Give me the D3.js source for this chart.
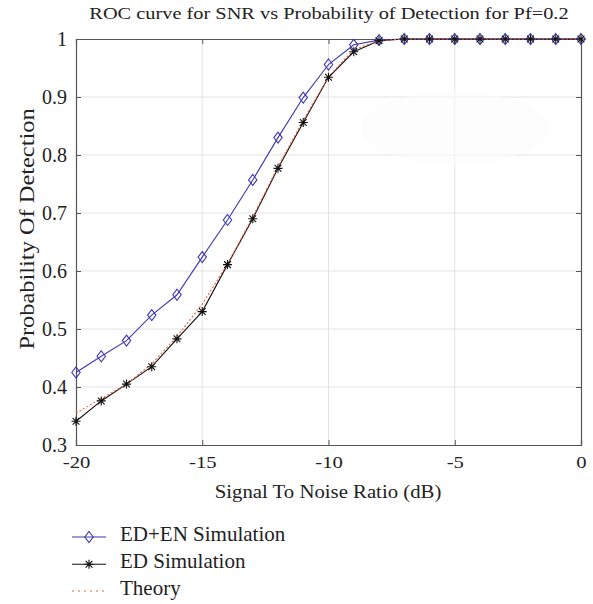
<!DOCTYPE html>
<html><head><meta charset="utf-8">
<script src="https://cdn.jsdelivr.net/npm/d3@7"></script>
<style>body{margin:0;background:#fff}svg{display:block}svg text{font-family:'Liberation Serif','DejaVu Serif','Tinos','Times New Roman',serif !important}</style>
</head><body><svg id="c" width="593" height="604"></svg>
<script>
const snr = [-20,-19,-18,-17,-16,-15,-14,-13,-12,-11,-10,-9,-8,-7,-6,-5,-4,-3,-2,-1,0];
const edEn = [0.425,0.453,0.480,0.524,0.559,0.624,0.688,0.757,0.830,0.899,0.956,0.990,0.998,1,1,1,1,1,1,1,1];
const ed = [0.341,0.376,0.405,0.435,0.483,0.530,0.611,0.690,0.777,0.856,0.934,0.978,0.997,1,1,1,1,1,1,1,1];
const theory = [0.355,0.380,0.405,0.440,0.487,0.543,0.612,0.693,0.780,0.860,0.935,0.982,0.997,1,1,1,1,1,1,1,1];
const xTicks = [-20,-15,-10,-5,0];
const yTicks = [0.3,0.4,0.5,0.6,0.7,0.8,0.9,1];
const legendLabels = ["ED+EN Simulation","ED Simulation","Theory"];
const title = "ROC curve for SNR vs Probability of Detection for Pf=0.2";

const FONT="'Liberation Serif','DejaVu Serif',serif";
const L=76,R=581,T=39,B=445;
const svg=d3.select("#c").attr("font-family",FONT);
const x=d3.scaleLinear().domain([-20,0]).range([L,R]);
const y=d3.scaleLinear().domain([0.3,1]).range([B,T]);
const blue="#3d37b2", red="#f0603a", grid="#e3e3e3", axc="#555", txt="#222";
const stretch=(sel,k)=>sel.each(function(){const w=this.getComputedTextLength();this.setAttribute("textLength",w*k);this.setAttribute("lengthAdjust","spacingAndGlyphs");});

// grid
svg.append("g").selectAll("line").data(xTicks.slice(1,-1)).join("line")
  .attr("x1",d=>x(d)).attr("x2",d=>x(d)).attr("y1",T).attr("y2",B).attr("stroke",grid);
svg.append("g").selectAll("line").data(yTicks.slice(1,-1)).join("line")
  .attr("x1",L).attr("x2",R).attr("y1",d=>y(d)).attr("y2",d=>y(d)).attr("stroke",grid);

// faint blob
svg.append("ellipse").attr("cx",455).attr("cy",128).attr("rx",95).attr("ry",36).attr("fill","#fcfcfc").attr("opacity",0.6);

// axes
const fmt=d=>d===1?"1":d3.format(".1f")(d);
const ax=(gen,tr)=>svg.append("g").attr("transform",tr).call(gen);
const gBottom=ax(d3.axisBottom(x).tickValues(xTicks).tickSize(-5).tickPadding(10).tickFormat(d=>d),`translate(0,${B})`);
const gTop=ax(d3.axisTop(x).tickValues(xTicks).tickSize(-5).tickFormat(""),`translate(0,${T})`);
const gLeft=ax(d3.axisLeft(y).tickValues(yTicks).tickSize(-5).tickPadding(9).tickFormat(fmt),`translate(${L},0)`);
const gRight=ax(d3.axisRight(y).tickValues(yTicks).tickSize(-5).tickFormat(""),`translate(${R},0)`);
[gBottom,gTop,gLeft,gRight].forEach(g=>{
  g.attr("font-family",FONT);
  g.select(".domain").attr("stroke",axc).attr("stroke-width",1.2);
  g.selectAll(".tick line").attr("stroke",axc);
  g.selectAll("text").attr("fill",txt);});
gBottom.attr("font-size",17.5);
gBottom.selectAll("text").attr("dy",null).attr("y",23);
stretch(gBottom.selectAll("text"),1.18);
gLeft.attr("font-size",20);
gLeft.selectAll("text").attr("dy","0.3em");

// lines
const line=d3.line().x((d,i)=>x(snr[i])).y(d=>y(d));
svg.append("path").datum(edEn).attr("d",line).attr("fill","none").attr("stroke",blue).attr("stroke-width",1.1);
svg.append("path").datum(ed).attr("d",line).attr("fill","none").attr("stroke","#111").attr("stroke-width",1.1);
svg.append("path").datum(theory).attr("d",line).attr("fill","none").attr("stroke",red).attr("stroke-width",1.1).attr("stroke-dasharray","2,2");

const diamond=(g,cx,cy)=>g.append("path").attr("d",`M${cx},${cy-5.5}L${cx+4.2},${cy}L${cx},${cy+5.5}L${cx-4.2},${cy}Z`).attr("fill","none").attr("stroke",blue).attr("stroke-width",1.1);
const star=(g,cx,cy)=>{const r=4.5;g.append("path").attr("d",`M${cx-r},${cy}H${cx+r}M${cx},${cy-r}V${cy+r}M${cx-r*0.75},${cy-r*0.75}L${cx+r*0.75},${cy+r*0.75}M${cx-r*0.75},${cy+r*0.75}L${cx+r*0.75},${cy-r*0.75}`).attr("stroke","#111").attr("stroke-width",1.1);};
const mg=svg.append("g");
edEn.forEach((d,i)=>diamond(mg,x(snr[i]),y(d)));
ed.forEach((d,i)=>star(mg,x(snr[i]),y(d)));

// labels
const T_=(sel)=>sel.attr("font-family",FONT).attr("fill",txt);
stretch(T_(svg.append("text")).attr("x",329).attr("y",18.5).attr("text-anchor","middle").attr("font-size",17.7).text(title),1.15);
stretch(T_(svg.append("text")).attr("x",328).attr("y",498).attr("text-anchor","middle").attr("font-size",19.6).text("Signal To Noise Ratio (dB)"),1.06);
stretch(T_(svg.append("text")).attr("transform","translate(34,229) rotate(-90)").attr("text-anchor","middle").attr("font-size",20).text("Probability Of Detection"),1.22);

// legend
const lg=svg.append("g");
const ly=[537,564.3,591];
const lb=[541,567.5,595];
legendLabels.forEach((t,i)=>{
  const l=lg.append("line").attr("x1",72).attr("x2",106).attr("y1",ly[i]).attr("y2",ly[i]);
  if(i===0){l.attr("stroke",blue).attr("stroke-width",1.1);diamond(lg,89,ly[i]);}
  else if(i===1){l.attr("stroke","#111").attr("stroke-width",1.1);star(lg,89,ly[i]);}
  else l.attr("stroke",red).attr("stroke-width",1.1).attr("stroke-dasharray","2,4");
  stretch(T_(lg.append("text")).attr("x",120).attr("y",lb[i]).attr("font-size",21).text(t),1.0);
});
</script></body></html>
